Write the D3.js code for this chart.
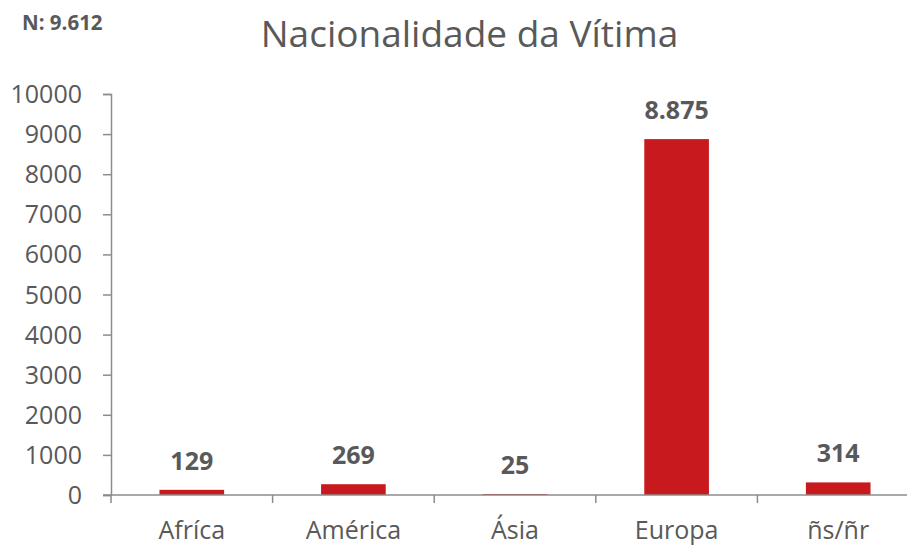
<!DOCTYPE html>
<html><head><meta charset="utf-8">
<script src="https://cdn.jsdelivr.net/npm/d3@7"></script>
<style>body{margin:0;background:#fff}svg{display:block}text{font-family:"Open Sans",sans-serif}</style>
</head><body><svg id="c" width="907" height="545"></svg>
<script>
const categories = ["Afríca", "América", "Ásia", "Europa", "ñs/ñr"];
const values = [129, 269, 25, 8875, 314];
const valueLabels = ["129", "269", "25", "8.875", "314"];
const yTicks = [0,1000,2000,3000,4000,5000,6000,7000,8000,9000,10000];
const title = "Nacionalidade da Vítima";
const note = "N: 9.612";

const svg = d3.select("#c");
const mLeft = 111, mRight = 919, mTop = 94, mBottom = 495;
const x = d3.scaleBand().domain(categories).range([mLeft, mRight]).paddingInner(0.6).paddingOuter(0.3);
const y = d3.scaleLinear().domain([0, 10000]).range([mBottom, mTop]);
const grey = "#595959", axisC = "#8c8c8c";

svg.append("text").attr("x", 22).attr("y", 30).attr("font-size", 20.5).attr("font-weight", "bold").attr("fill", grey).text(note);
svg.append("text").attr("x", 469.5).attr("y", 47).attr("text-anchor", "middle").attr("font-size", 37).attr("fill", grey).text(title);

// y axis
const ya = svg.append("g").attr("transform", `translate(${mLeft},0)`)
  .call(d3.axisLeft(y).tickValues(yTicks).tickFormat(d => String(d)).tickSize(8).tickPadding(21));
ya.select(".domain").attr("stroke", axisC).attr("stroke-width", 1.5);
ya.selectAll(".tick line").attr("stroke", axisC).attr("stroke-width", 1.5);
ya.selectAll(".tick text").attr("font-size", 25).attr("fill", grey).attr("font-family", "Open Sans").attr("dy", "0.34em");

// bars
svg.append("g").selectAll("rect").data(values).join("rect")
  .attr("x", (d,i) => x(categories[i])).attr("width", x.bandwidth())
  .attr("y", d => y(d)).attr("height", d => mBottom - y(d))
  .attr("fill", "#c8191e");

// x axis
const xb = d3.scaleLinear().domain([0, categories.length]).range([mLeft, mRight]);
svg.append("line").attr("x1", mLeft - 8).attr("x2", 907).attr("y1", mBottom).attr("y2", mBottom).attr("stroke", axisC).attr("stroke-width", 1.5);
svg.append("g").selectAll("line").data(d3.range(categories.length + 1)).join("line")
  .attr("x1", d => xb(d)).attr("x2", d => xb(d)).attr("y1", mBottom).attr("y2", mBottom + 8)
  .attr("stroke", axisC).attr("stroke-width", 1.5);
svg.append("g").selectAll("text").data(categories).join("text")
  .attr("x", d => x(d) + x.bandwidth()/2).attr("y", 539).attr("text-anchor", "middle")
  .attr("font-size", 25).attr("fill", grey).text(d => d);

// value labels
svg.append("g").selectAll("text").data(values).join("text")
  .attr("x", (d,i) => x(categories[i]) + x.bandwidth()/2).attr("y", d => y(d) - 20)
  .attr("text-anchor", "middle").attr("font-size", 25).attr("font-weight", "bold").attr("fill", grey)
  .text((d,i) => valueLabels[i]);
</script></body></html>
